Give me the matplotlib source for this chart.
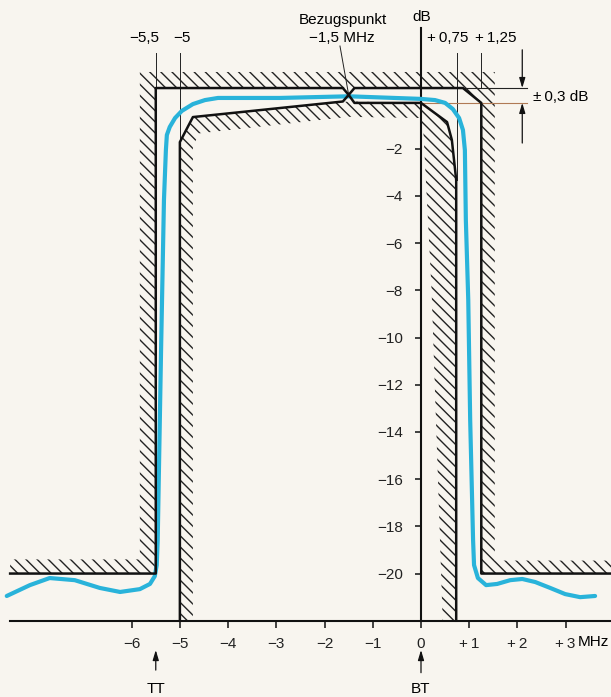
import matplotlib
matplotlib.use("Agg")
import matplotlib.pyplot as plt
from matplotlib.patches import Polygon

plt.rcParams['font.family'] = ['Liberation Sans', 'DejaVu Sans']
plt.rcParams['hatch.linewidth'] = 1.0
plt.rcParams['hatch.color'] = '#222222'

# levels at the top of the mask (dB)
upper = 0.57   # upper tolerance
pinch = 0.28   # Bezugspunkt -1.5 MHz
lower = -0.06  # lower tolerance

# outer mask (upper limit)
outer_x = [-8.52, -5.5, -5.5, -1.62, -1.5, -1.38, 0.87, 1.25, 1.25, 3.94]
outer_y = [-20, -20, upper, upper, pinch, upper, upper, lower, -20, -20]
outer_hatch_x = [-8.52, -5.5, -5.5, 0.87, 1.25, 1.25, 3.94, 3.94, 1.53, 1.53, -5.83, -5.83, -8.52]
outer_hatch_y = [-20, -20, upper, upper, lower, -20, -20, -19.45, -19.45, upper + 0.68, upper + 0.68, -19.4, -19.4]

# inner mask (lower limit)
inner_x = [-5.0, -5.0, -4.73, -1.62, -1.5, -1.38, 0.0, 0.54, 0.64, 0.73, 0.73]
inner_y = [-22, -1.72, -0.66, 0.0, pinch, lower, lower, -0.87, -1.63, -3.33, -22]
inner_hatch_x = [-5.0, -5.0, -4.73, -1.5, 0.0, 0.54, 0.64, 0.73, 0.73, 0.45, 0.22, 0.05, 0.0, -1.5, -4.6, -4.73, -4.73]
inner_hatch_y = [-22, -1.72, -0.66, 0.0, lower, -0.87, -1.63, -3.33, -22, -22, -8, -1.3, -0.7, -0.65, -1.35, -1.9, -22]

# measured response (cyan)
resp_x = [-8.59, -8.11, -7.70, -7.18, -6.66, -6.24, -5.83, -5.62, -5.52, -5.48, -5.46,
          -5.39, -5.33, -5.29, -5.27, -5.21, -5.10, -4.96, -4.73, -4.48, -4.21, -2.93,
          -1.5, 0.0, 0.29, 0.50, 0.66, 0.79, 0.87, 0.91, 0.93, 0.98, 1.02, 1.08, 1.10,
          1.18, 1.35, 1.58, 1.85, 2.10, 2.37, 2.68, 2.99, 3.30, 3.61]
resp_y = [-20.95, -20.49, -20.19, -20.28, -20.61, -20.78, -20.66, -20.44, -20.11, -19.64, -18.58,
          -10.53, -4.17, -2.06, -1.42, -1.08, -0.70, -0.40, -0.11, 0.06, 0.15, 0.15,
          0.22, 0.11, 0.06, -0.06, -0.32, -0.70, -1.21, -2.06, -5.02, -8.41, -13.5, -18.58, -19.64,
          -20.19, -20.49, -20.44, -20.28, -20.23, -20.36, -20.61, -20.87, -21.0, -20.95]

x_ticks = [-6, -5, -4, -3, -2, -1, 0, 1, 2, 3]
x_labels = ['−6', '−5', '−4', '−3', '−2', '−1', '0', '+\u20091', '+\u20092', '+\u20093']
y_ticks = [-2, -4, -6, -8, -10, -12, -14, -16, -18, -20]
y_labels = ['−2', '−4', '−6', '−8', '−10', '−12', '−14', '−16', '−18', '−20']

fig = plt.figure(figsize=(6.11, 6.97), dpi=100)
fig.patch.set_facecolor('#f8f5ef')
ax = fig.add_axes([0, 0, 1, 1])
ax.set_facecolor('#f8f5ef')
ax.set_xlim(-8.73, 3.94)
ax.set_ylim(-25.23, 4.30)

for s in ['top', 'right']:
    ax.spines[s].set_visible(False)
ax.spines['left'].set_position(('data', 0))
ax.spines['left'].set_bounds(-22, 3.1)
ax.spines['bottom'].set_position(('data', -22))
ax.spines['bottom'].set_bounds(-8.52, 3.94)
for s in ['left', 'bottom']:
    ax.spines[s].set_linewidth(1.5)
    ax.spines[s].set_color('#111111')

ax.set_xticks(x_ticks, x_labels)
ax.set_yticks(y_ticks, y_labels)
ax.tick_params(axis='x', direction='out', length=5, width=1.2, pad=7, labelsize=11, colors='#222222')
ax.tick_params(axis='y', direction='out', length=4, width=1.2, pad=9, labelsize=11, colors='#222222')

# hatched bands
ax.add_patch(Polygon(list(zip(outer_hatch_x, outer_hatch_y)), closed=True, facecolor='none',
                     edgecolor='#222222', lw=0, hatch='\\\\\\', zorder=1))
ax.add_patch(Polygon(list(zip(inner_hatch_x, inner_hatch_y)), closed=True, facecolor='none',
                     edgecolor='#222222', lw=0, hatch='\\\\\\', zorder=1))

ax.plot(resp_x, resp_y, color='#29b3da', lw=3, solid_capstyle='round', zorder=3)
ax.plot(outer_x, outer_y, color='#111111', lw=1.8, zorder=4)
ax.plot(inner_x, inner_y, color='#111111', lw=1.8, zorder=4)

# thin reference lines
ax.plot([-5.5, -5.5], [2.05, upper], color='#222222', lw=0.7)
ax.plot([-5.0, -5.0], [2.05, -1.72], color='#222222', lw=0.7)
ax.plot([0.75, 0.75], [2.05, -3.33], color='#222222', lw=0.7)
ax.plot([1.25, 1.25], [2.05, upper], color='#222222', lw=0.7)
ax.plot([0.87, 2.19], [upper, upper], color='#222222', lw=0.8)
ax.plot([0.0, 2.19], [lower, lower], color='#b07a55', lw=0.8)
ax.plot([-1.68, -1.5], [2.35, pinch], color='#222222', lw=0.7)

# labels
fs = 11
ax.text(-5.73, 2.69, '−5,5', ha='center', va='center', fontsize=fs)
ax.text(-4.96, 2.69, '−5', ha='center', va='center', fontsize=fs)
ax.text(-1.62, 3.45, 'Bezugspunkt', ha='center', va='center', fontsize=fs)
ax.text(-1.64, 2.69, '−1,5 MHz', ha='center', va='center', fontsize=fs)
ax.text(0.56, 2.69, '+\u20090,75', ha='center', va='center', fontsize=fs)
ax.text(1.54, 2.69, '+\u20091,25', ha='center', va='center', fontsize=fs)
ax.text(0.02, 3.58, 'dB', ha='center', va='center', fontsize=fs)
ax.text(2.32, 0.19, '±\u20090,3 dB', ha='left', va='center', fontsize=fs)
ax.text(3.57, -22.6, 'MHz', ha='center', va='top', fontsize=fs)
ax.text(-5.5, -25.17, 'TT', ha='center', va='bottom', fontsize=fs)
ax.text(0.0, -25.17, 'BT', ha='center', va='bottom', fontsize=fs)

arrow = dict(arrowstyle='-|>,head_width=0.18,head_length=0.6', color='#111111', lw=0.9,
             shrinkA=0, shrinkB=0)
ax.annotate('', xy=(2.10, upper), xytext=(2.10, 2.19), arrowprops=arrow)
ax.annotate('', xy=(2.10, lower), xytext=(2.10, -1.76), arrowprops=arrow)
ax.annotate('', xy=(-5.5, -23.24), xytext=(-5.5, -24.09), arrowprops=arrow)
ax.annotate('', xy=(0.0, -23.24), xytext=(0.0, -24.2), arrowprops=arrow)

fig.savefig('out.png', dpi=100, facecolor=fig.get_facecolor())
